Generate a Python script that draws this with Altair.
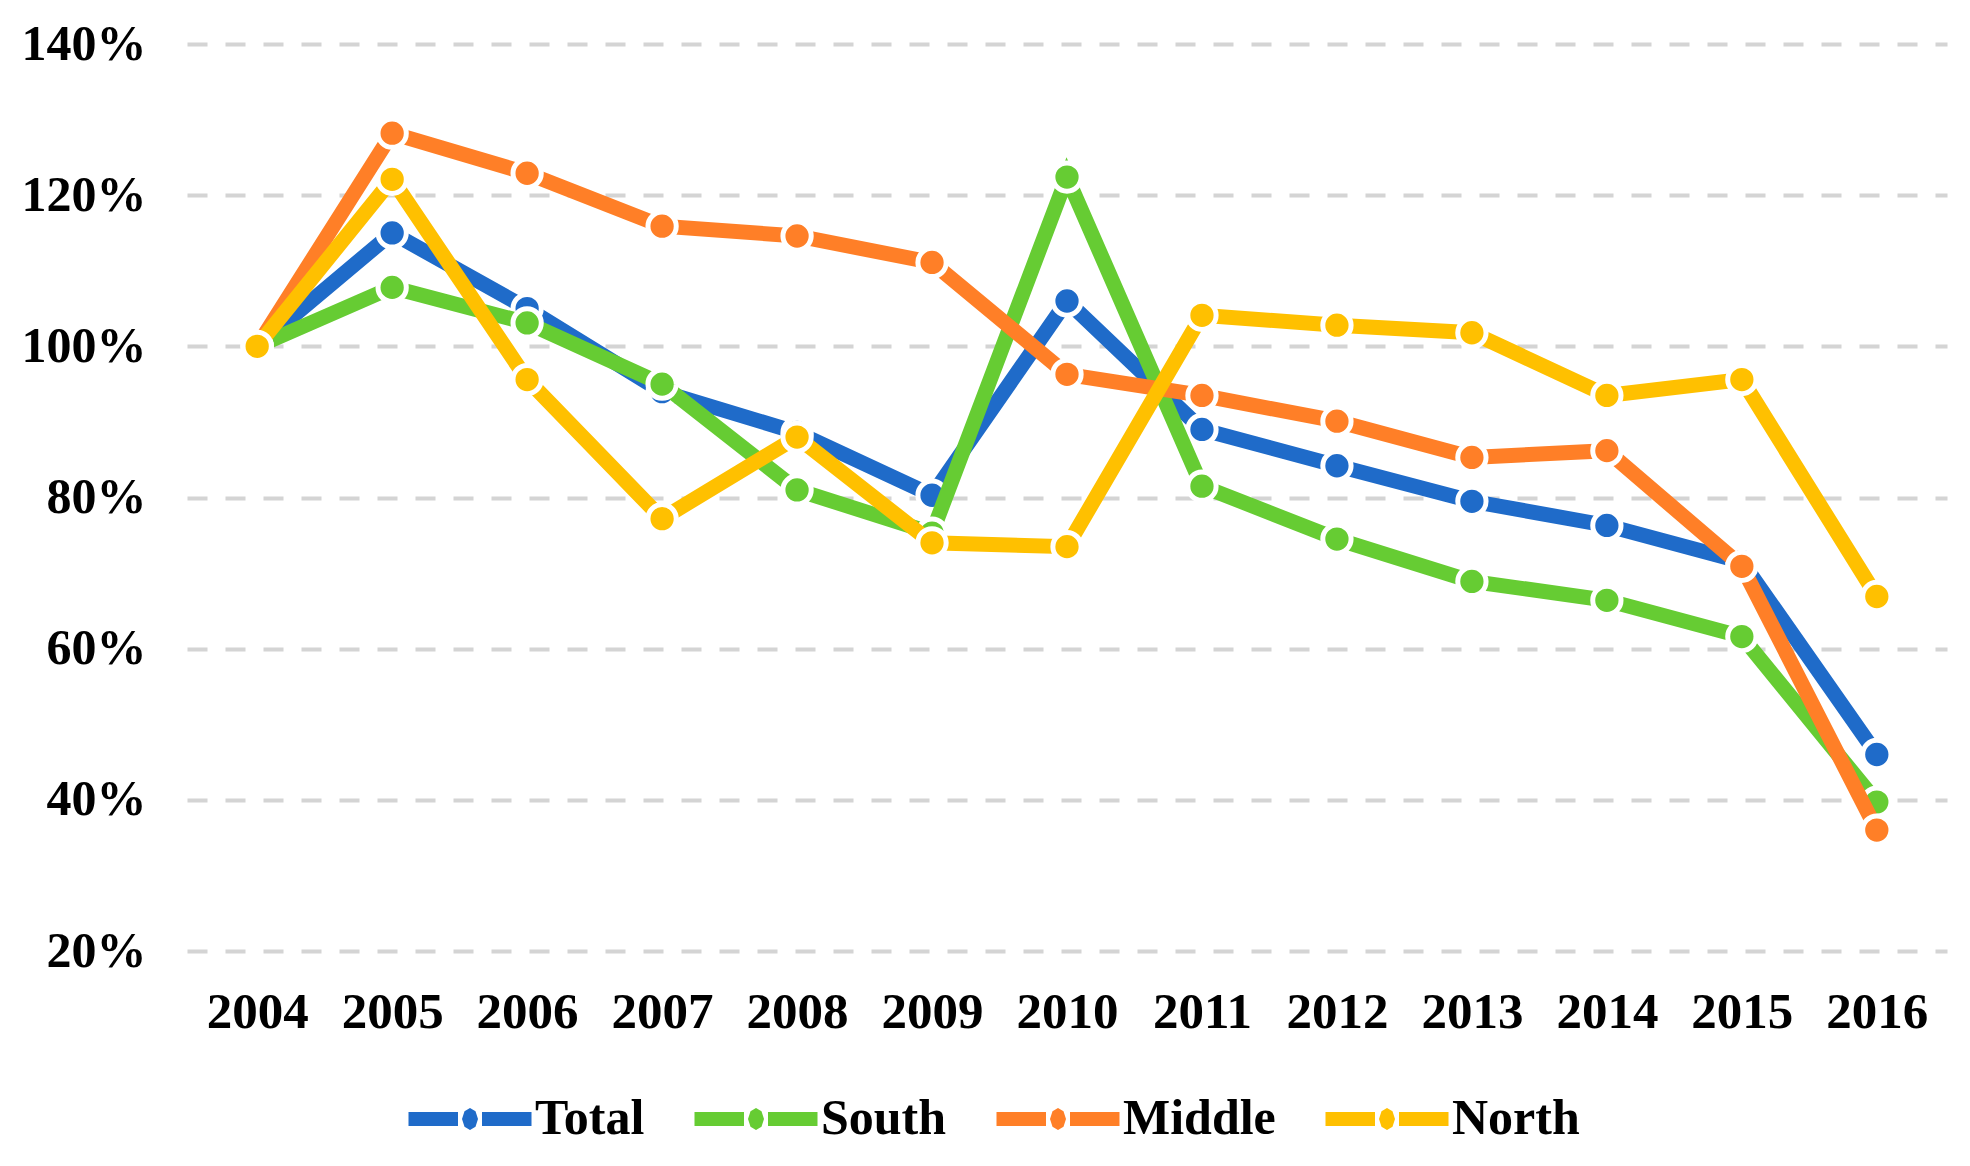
import altair as alt
import pandas as pd

years = [str(y) for y in range(2004, 2017)]
series = ["Total", "South", "Middle", "North"]
colors = ["#1F6BC9", "#66CC33", "#FF7F27", "#FFC000"]

total = [100, 115.0, 105.0, 94.0, 88.6, 80.3, 106.0, 89.0, 84.2, 79.5, 76.3, 71.5, 46.0]
south = [100, 107.8, 103.1, 95.0, 81.0, 75.3, 122.4, 81.5, 74.5, 68.9, 66.4, 61.6, 39.7]
middle = [100, 128.2, 122.9, 115.9, 114.6, 111.1, 96.3, 93.5, 90.1, 85.3, 86.2, 70.9, 36.0]
north = [100, 122.1, 95.6, 77.2, 88.0, 74.0, 73.5, 104.1, 102.8, 101.8, 93.5, 95.6, 66.9]

y_ticks = [20, 40, 60, 80, 100, 120, 140]

values = {"Total": total, "South": south, "Middle": middle, "North": north}
rows = []
for s in series:
    for yr, v in zip(years, values[s]):
        rows.append({"year": yr, "series": s, "value": v})
df = pd.DataFrame(rows)

FONT = "Liberation Serif"

color_scale = alt.Scale(domain=series, range=colors)

legend_path = (
    "M-6.15,-0.7 L-1.2,-0.7 L-1.2,0.7 L-6.15,0.7 Z "
    "M1.2,-0.7 L6.15,-0.7 L6.15,0.7 L1.2,0.7 Z "
    "M0,-1.1 L0.55,-0.78 L0.8,0 L0.55,0.78 L0,1.1 L-0.55,0.78 L-0.8,0 L-0.55,-0.78 Z"
)

legend = alt.Legend(
    orient="none",
    legendX=207,
    legendY=1050,
    direction="horizontal",
    title=None,
    symbolType=legend_path,
    symbolSize=400,
    symbolOffset=51,
    symbolStrokeWidth=0,
    symbolOpacity=1,
    labelOffset=40,
    columnPadding=35,
    padding=0,
    labelFont=FONT,
    labelFontSize=50,
    labelFontWeight="bold",
    labelColor="black",
    labelLimit=400,
)

x_enc = alt.X(
    "year:O",
    scale=alt.Scale(type="point", padding=0.52),
    sort=years,
    axis=alt.Axis(
        title=None,
        labelAngle=0,
        labelFont=FONT,
        labelFontSize=51,
        labelFontWeight="bold",
        labelColor="black",
        labelPadding=61,
        labelBaseline="middle",
        ticks=False,
        tickSize=0,
        domain=False,
        grid=False,
    ),
)
y_enc = alt.Y(
    "value:Q",
    scale=alt.Scale(domain=[20, 140], nice=False, zero=False),
    axis=alt.Axis(
        title=None,
        values=y_ticks,
        labelExpr="datum.value + '%'",
        labelFont=FONT,
        labelFontSize=50,
        labelFontWeight="bold",
        labelColor="black",
        labelPadding=41,
        ticks=False,
        tickSize=0,
        domain=False,
        grid=True,
        gridColor="#d4d4d4",
        gridWidth=4,
        gridDash=[20, 18],
    ),
)

base = alt.Chart(df)
layers = []
for i, s in enumerate(series):
    sub = base.transform_filter(alt.datum.series == s)
    line = sub.mark_line(strokeWidth=15).encode(
        x=x_enc,
        y=y_enc,
        color=alt.Color("series:N", scale=color_scale, legend=legend),
    )
    pts = sub.mark_circle(size=800, stroke="white", strokeWidth=5, opacity=1).encode(
        x=x_enc,
        y=y_enc,
        color=alt.Color("series:N", scale=color_scale, legend=legend),
    )
    layers.extend([line, pts])

chart = alt.layer(*layers).properties(
    width=1760,
    height=907,
    padding={"left": 179, "top": 36, "right": 10, "bottom": 200},
    autosize=alt.AutoSizeParams(type="none"),
    background="white",
).configure_view(stroke=None)

chart.save("out.html", embed_options={"renderer": "svg", "actions": False})
